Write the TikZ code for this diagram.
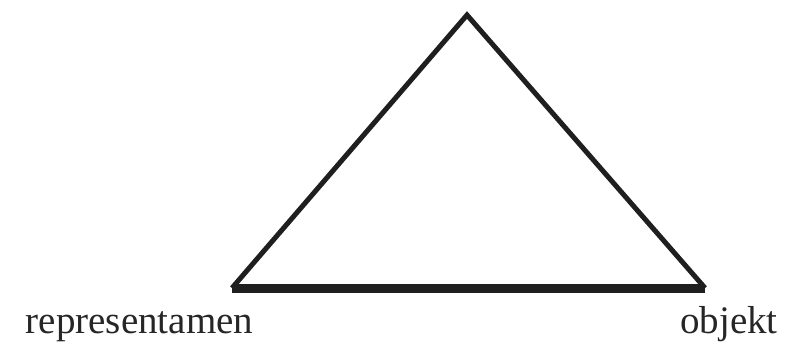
\documentclass[tikz,border=0pt]{standalone}
\usepackage{fontspec}
\setmainfont{Liberation Serif}
\usetikzlibrary{positioning}
\begin{document}
\begin{tikzpicture}[x=1pt,y=1pt,
  side/.style={line width=5pt,line join=miter,color=black!88},
  base/.style={line width=9pt,color=black!88},
  lbl/.style={font=\fontsize{39}{44}\selectfont,anchor=base,inner sep=0pt,text=black!85}]
\useasboundingbox (0,0) rectangle (799,348);
\coordinate (R) at (232,60);
\coordinate (O) at (705,60);
\coordinate (I) at (467,333);
\draw[side] (R) -- (I) -- (O);
\draw[base] (R) -- (O);
\node[lbl] (rep) at (139.5,15) {representamen};
\node[lbl] (obj) at (729,15) {objekt};
\end{tikzpicture}
\end{document}
